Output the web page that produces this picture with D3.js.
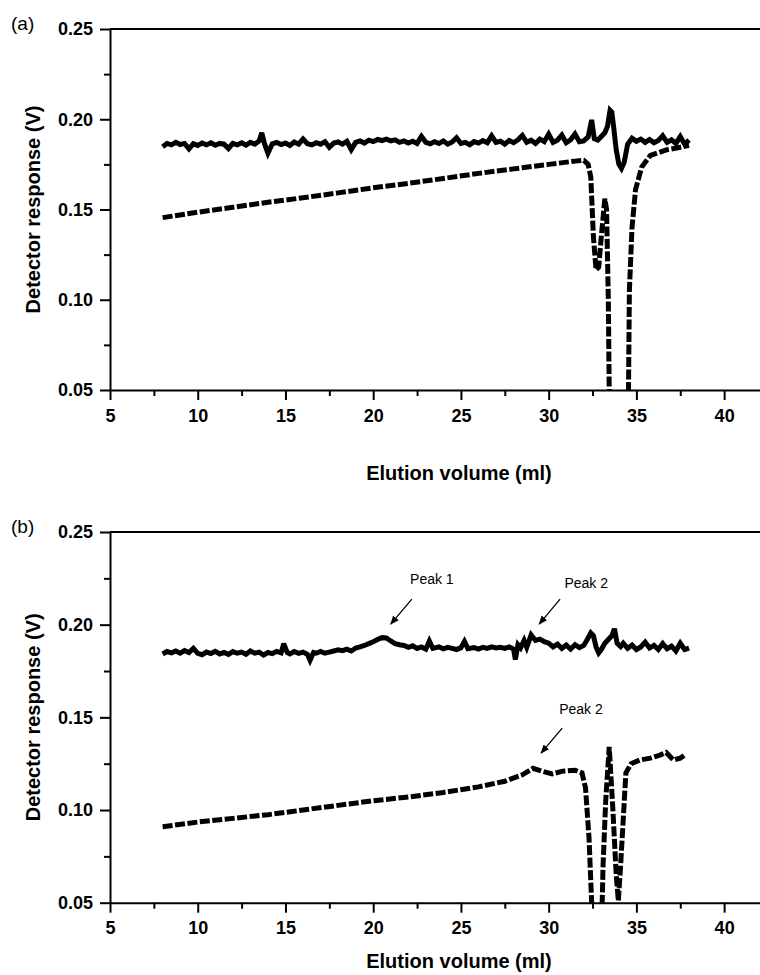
<!DOCTYPE html>
<html>
<head>
<meta charset="utf-8">
<script src="https://cdn.jsdelivr.net/npm/d3@7"></script>
<style>
  body { margin: 0; background: #fff; }
  text { font-family: "Liberation Sans", Arial, sans-serif; }
</style>
</head>
<body>
<script>
// x ticks / y ticks
var xTicks = [5, 10, 15, 20, 25, 30, 35, 40];
var xMinor = [7.5, 12.5, 17.5, 22.5, 27.5, 32.5, 37.5, 42.5];
var yTicks = [0.05, 0.10, 0.15, 0.20, 0.25];
var yMinor = [0.075, 0.125, 0.175, 0.225];

// panel (a) solid trace [volume, response]
var solidA = [[8.0,.1848],[8.25,.1866],[8.5,.1858],[8.75,.1872],[9.0,.1860],[9.25,.1866],[9.5,.1836],[9.75,.1864],[10.0,.1855],[10.25,.1868],[10.5,.1858],[10.75,.1870],[11.0,.1856],[11.25,.1866],[11.5,.1862],[11.75,.1838],[12.0,.1866],[12.25,.1858],[12.5,.1870],[12.75,.1857],[13.0,.1872],[13.25,.1862],[13.5,.1880],[13.65,.1925],[13.8,.1866],[14.0,.1812],[14.25,.1864],[14.5,.1872],[14.75,.1860],[15.0,.1868],[15.25,.1855],[15.5,.1874],[15.75,.1862],[16.0,.1890],[16.25,.1864],[16.5,.1858],[16.75,.1870],[17.0,.1862],[17.25,.1876],[17.5,.1845],[17.75,.1868],[18.0,.1874],[18.25,.1862],[18.5,.1878],[18.75,.1832],[19.0,.1872],[19.25,.1880],[19.5,.1868],[19.75,.1884],[20.0,.1876],[20.25,.1888],[20.5,.1882],[20.75,.1890],[21.0,.1880],[21.25,.1886],[21.5,.1872],[21.75,.1880],[22.0,.1868],[22.25,.1878],[22.5,.1866],[22.75,.1905],[23.0,.1872],[23.25,.1864],[23.5,.1876],[23.75,.1866],[24.0,.1880],[24.25,.1862],[24.5,.1874],[24.75,.1898],[25.0,.1866],[25.25,.1872],[25.5,.1858],[25.75,.1876],[26.0,.1868],[26.25,.1882],[26.5,.1870],[26.75,.1908],[27.0,.1872],[27.25,.1878],[27.5,.1862],[27.75,.1882],[28.0,.1870],[28.25,.1886],[28.5,.1910],[28.75,.1872],[29.0,.1884],[29.25,.1866],[29.5,.1890],[29.75,.1876],[30.0,.1918],[30.25,.1872],[30.5,.1884],[30.75,.1912],[31.0,.1870],[31.25,.1886],[31.5,.1918],[31.75,.1876],[32.0,.1880],[32.25,.1902],[32.45,.1996],[32.6,.1892],[32.8,.1885],[33.0,.1905],[33.2,.1925],[33.35,.1960],[33.5,.2050],[33.6,.2040],[33.7,.1960],[33.85,.1830],[34.0,.1752],[34.15,.1728],[34.3,.1760],[34.5,.1862],[34.75,.1895],[35.0,.1878],[35.25,.1890],[35.5,.1872],[35.75,.1888],[36.0,.1870],[36.25,.1882],[36.5,.1908],[36.75,.1872],[37.0,.1886],[37.25,.1866],[37.5,.1904],[37.75,.1862],[38.0,.1885]];

// panel (a) dashed trace
var dashA = [[8,.1455],[10,.1485],[12,.1512],[14,.1540],[16,.1565],[18,.1592],[20,.1620],[22,.1645],[24,.1672],[26,.1700],[28,.1725],[30,.1750],[31.5,.1768],[32.0,.1772],[32.25,.1750],[32.4,.1680],[32.55,.1350],[32.7,.1165],[32.85,.1180],[33.0,.1350],[33.2,.1560],[33.3,.1500],[33.4,.1000],[33.45,.0500],[33.5,.0200],[34.5,.0200],[34.55,.0500],[34.6,.1050],[34.75,.1400],[34.95,.1610],[35.3,.1735],[35.8,.1800],[36.7,.1830],[37.5,.1845],[38,.1855]];

// panel (b) solid trace
var solidB = [[8.0,.1842],[8.25,.1855],[8.5,.1848],[8.75,.1858],[9.0,.1846],[9.25,.1860],[9.5,.1850],[9.75,.1872],[10.0,.1845],[10.25,.1838],[10.5,.1852],[10.75,.1844],[11.0,.1856],[11.25,.1842],[11.5,.1850],[11.75,.1840],[12.0,.1855],[12.25,.1846],[12.5,.1852],[12.75,.1840],[13.0,.1858],[13.25,.1846],[13.5,.1852],[13.75,.1836],[14.0,.1850],[14.25,.1844],[14.5,.1856],[14.75,.1848],[14.9,.1898],[15.1,.1850],[15.25,.1842],[15.5,.1855],[15.75,.1845],[16.0,.1852],[16.25,.1840],[16.4,.1808],[16.6,.1850],[16.75,.1846],[17.0,.1856],[17.25,.1846],[17.5,.1852],[17.75,.1858],[18.0,.1864],[18.25,.1860],[18.5,.1868],[18.75,.1858],[19.0,.1874],[19.25,.1880],[19.5,.1888],[19.75,.1898],[20.0,.1908],[20.25,.1920],[20.5,.1930],[20.75,.1928],[21.0,.1912],[21.25,.1898],[21.5,.1892],[21.75,.1888],[22.0,.1878],[22.25,.1886],[22.5,.1872],[22.75,.1880],[23.0,.1868],[23.2,.1912],[23.4,.1872],[23.75,.1880],[24.0,.1870],[24.25,.1878],[24.5,.1872],[24.75,.1866],[25.0,.1876],[25.2,.1910],[25.4,.1870],[25.75,.1876],[26.0,.1868],[26.25,.1878],[26.5,.1872],[26.75,.1880],[27.0,.1874],[27.25,.1878],[27.5,.1872],[27.75,.1880],[28.0,.1868],[28.1,.1812],[28.25,.1892],[28.4,.1875],[28.6,.1915],[28.75,.1878],[29.0,.1945],[29.25,.1915],[29.5,.1922],[29.75,.1908],[30.0,.1900],[30.25,.1880],[30.5,.1895],[30.75,.1872],[31.0,.1890],[31.25,.1868],[31.5,.1892],[31.75,.1876],[32.0,.1888],[32.2,.1920],[32.4,.1955],[32.55,.1940],[32.7,.1880],[32.85,.1848],[33.0,.1866],[33.2,.1900],[33.4,.1920],[33.6,.1940],[33.75,.1978],[33.9,.1900],[34.1,.1882],[34.25,.1900],[34.5,.1872],[34.75,.1890],[35.0,.1866],[35.25,.1880],[35.5,.1906],[35.75,.1874],[36.0,.1888],[36.25,.1866],[36.5,.1898],[36.75,.1870],[37.0,.1884],[37.25,.1858],[37.5,.1900],[37.75,.1866],[38.0,.1874]];

// panel (b) dashed trace
var dashB = [[8,.0910],[10,.0935],[12,.0955],[14,.0975],[16,.1000],[18,.1025],[20,.1050],[22,.1070],[24,.1095],[26,.1125],[27.5,.1155],[28.5,.1190],[29.1,.1225],[29.6,.1210],[30.2,.1195],[30.8,.1210],[31.5,.1215],[31.9,.1200],[32.1,.1120],[32.3,.0850],[32.45,.0500],[32.55,.0300],[33.0,.0300],[33.1,.0700],[33.25,.1050],[33.45,.1340],[33.65,.1020],[33.85,.0650],[33.97,.0510],[34.1,.0700],[34.25,.0950],[34.4,.1200],[34.7,.1250],[35.2,.1270],[35.8,.1280],[36.3,.1295],[36.7,.1310],[37.1,.1270],[37.5,.1280],[37.8,.1300]];

// annotations for panel (b): label anchor and arrow [from, to]
var notesB = [
  {label: "Peak 1", at: [22.1, .2219], from: [22.2, .2138], to: [21.0, .2003]},
  {label: "Peak 2", at: [30.9, .2198], from: [30.65, .2138], to: [29.46, .2003]},
  {label: "Peak 2", at: [30.6, .1518], from: [30.77, .1442], to: [29.57, .1307]}
];

var screen = {width: 760, height: 975};

var svg = d3.select("body")
            .append("svg")
            .attr("width", screen.width)
            .attr("height", screen.height);

svg.append("defs")
   .append("marker")
   .attr("id", "arrowhead")
   .attr("viewBox", "0 0 10 10")
   .attr("refX", 9)
   .attr("refY", 5)
   .attr("markerWidth", 9)
   .attr("markerHeight", 9)
   .attr("markerUnits", "userSpaceOnUse")
   .attr("orient", "auto")
   .append("path")
   .attr("d", "M0,1 L10,5 L0,9 Z")
   .attr("fill", "black");

var drawPanel = function(id, label, top, bottom, solid, dashed, notes)
{
  var x = d3.scaleLinear().domain([5, 42.5]).range([110, 768]);
  var y = d3.scaleLinear().domain([0.05, 0.25]).range([bottom, top]);

  var g = svg.append("g").attr("id", id);

  g.append("clipPath")
   .attr("id", id + "clip")
   .append("rect")
   .attr("x", 110)
   .attr("y", top)
   .attr("width", 660)
   .attr("height", bottom - top);

  var line = d3.line()
               .x(function(d) {return x(d[0]);})
               .y(function(d) {return y(d[1]);});

  var traces = g.append("g").attr("clip-path", "url(#" + id + "clip)");

  traces.append("path")
        .datum(solid)
        .attr("d", line)
        .attr("fill", "none")
        .attr("stroke", "black")
        .attr("stroke-width", 5)
        .attr("stroke-linejoin", "miter")
        .attr("stroke-miterlimit", 3);

  traces.append("path")
        .datum(dashed)
        .attr("d", line)
        .attr("fill", "none")
        .attr("stroke", "black")
        .attr("stroke-width", 5)
        .attr("stroke-dasharray", "10,2.5");

  // minor ticks
  g.append("g")
   .attr("transform", "translate(0," + bottom + ")")
   .call(d3.axisBottom(x).tickValues(xMinor).tickSize(6).tickFormat("").tickSizeOuter(0))
   .call(function(a) {a.select(".domain").remove();});

  g.append("g")
   .attr("transform", "translate(110,0)")
   .call(d3.axisLeft(y).tickValues(yMinor).tickSize(6).tickFormat("").tickSizeOuter(0))
   .call(function(a) {a.select(".domain").remove();});

  // major axes
  g.append("g")
   .attr("transform", "translate(0," + bottom + ")")
   .call(d3.axisBottom(x).tickValues(xTicks).tickSize(10).tickPadding(9).tickSizeOuter(0));

  g.append("g")
   .attr("transform", "translate(110,0)")
   .call(d3.axisLeft(y).tickValues(yTicks).tickSize(10).tickPadding(7)
           .tickFormat(d3.format(".2f")).tickSizeOuter(0));

  // top frame line
  g.append("line")
   .attr("x1", 110)
   .attr("x2", 768)
   .attr("y1", top)
   .attr("y2", top)
   .attr("stroke", "black")
   .attr("stroke-width", 2);

  g.selectAll(".tick line, .domain")
   .attr("stroke", "black")
   .attr("stroke-width", 2);

  g.selectAll(".tick text")
   .attr("fill", "black")
   .attr("font-family", "'Liberation Sans', Arial, sans-serif")
   .attr("font-weight", "bold")
   .attr("font-size", "18px");

  // axis titles
  g.append("text")
   .attr("x", 459)
   .attr("y", id == "panelA" ? 480 : 968)
   .attr("text-anchor", "middle")
   .attr("font-weight", "bold")
   .attr("font-size", "20px")
   .text("Elution volume (ml)");

  g.append("text")
   .attr("transform", "translate(40," + ((top + bottom) / 2) + ") rotate(-90)")
   .attr("text-anchor", "middle")
   .attr("font-weight", "bold")
   .attr("font-size", "20px")
   .text("Detector response (V)");

  // panel letter
  g.append("text")
   .attr("x", 11)
   .attr("y", top + 1)
   .attr("font-size", "19px")
   .text(label);

  // annotations
  var note = g.selectAll(".note")
              .data(notes)
              .enter()
              .append("g")
              .classed("note", true);

  note.append("text")
      .attr("x", function(d) {return x(d.at[0]);})
      .attr("y", function(d) {return y(d.at[1]);})
      .attr("font-size", "14px")
      .text(function(d) {return d.label;});

  note.append("line")
      .attr("x1", function(d) {return x(d.from[0]);})
      .attr("y1", function(d) {return y(d.from[1]);})
      .attr("x2", function(d) {return x(d.to[0]);})
      .attr("y2", function(d) {return y(d.to[1]);})
      .attr("stroke", "black")
      .attr("stroke-width", 1.3)
      .attr("marker-end", "url(#arrowhead)");
}

drawPanel("panelA", "(a)", 29, 390, solidA, dashA, []);
drawPanel("panelB", "(b)", 532, 902.7, solidB, dashB, notesB);
</script>
</body>
</html>
